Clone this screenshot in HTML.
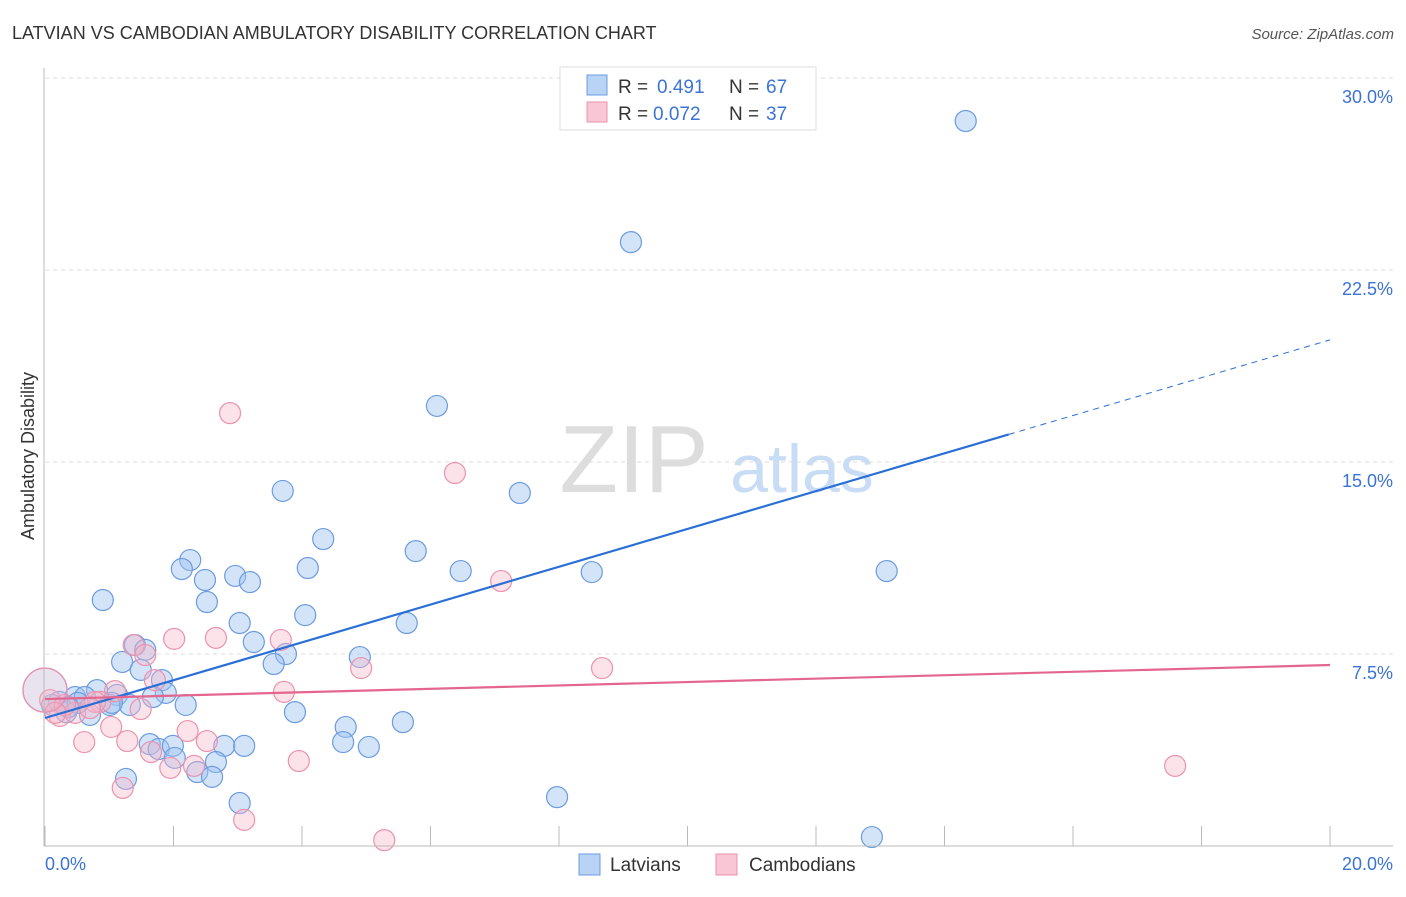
<!DOCTYPE html>
<html><head><meta charset="utf-8"><style>
body{margin:0;background:#fff;font-family:"Liberation Sans",sans-serif;}
svg text{font-family:"Liberation Sans",sans-serif;}
</style></head><body>
<svg width="1406" height="892" id="c">
<text x="12" y="39" font-size="18" fill="#333">LATVIAN VS CAMBODIAN AMBULATORY DISABILITY CORRELATION CHART</text>
<text x="1394" y="39" font-size="15" fill="#555" font-style="italic" text-anchor="end">Source: ZipAtlas.com</text>
<text x="634" y="492" font-size="96" fill="#ddd" font-family="Liberation Serif" text-anchor="middle">ZIP</text>
<text x="802" y="492" font-size="68" fill="#c9dcf5" text-anchor="middle">atlas</text>
<text transform="translate(34,456) rotate(-90)" font-size="18" fill="#333" text-anchor="middle">Ambulatory Disability</text>
<g id="grid"></g><g id="pts"></g><g id="lines"></g>
<line x1="44" y1="68" x2="44" y2="846" stroke="#bbb"/>
<line x1="44" y1="846" x2="1393" y2="846" stroke="#bbb"/>
<text x="45" y="870" font-size="18" fill="#3b73d6">0.0%</text>
<text x="1393" y="870" font-size="18" fill="#3b73d6" text-anchor="end">20.0%</text>
<g>
<rect x="560" y="67" width="256" height="63" fill="#fff" stroke="#ddd"/>
<rect x="587" y="75" width="20" height="20" fill="#b9d3f5" stroke="#6b9be0"/>
<rect x="587" y="102" width="20" height="20" fill="#f9c6d5" stroke="#ec92ae"/>
<text x="618" y="93" font-size="19" fill="#333">R =</text>
<text x="657" y="93" font-size="19" fill="#3b73d6">0.491</text>
<text x="729" y="93" font-size="19" fill="#333">N =</text>
<text x="766" y="93" font-size="19" fill="#3b73d6">67</text>
<text x="618" y="120" font-size="19" fill="#333">R =</text>
<text x="653" y="120" font-size="19" fill="#3b73d6">0.072</text>
<text x="729" y="120" font-size="19" fill="#333">N =</text>
<text x="766" y="120" font-size="19" fill="#3b73d6">37</text>
</g>
<g>
<rect x="579" y="854" width="21" height="21" fill="#b9d3f5" stroke="#6b9be0"/>
<text x="610" y="871" font-size="19" fill="#333">Latvians</text>
<rect x="716" y="854" width="21" height="21" fill="#f9c6d5" stroke="#ec92ae"/>
<text x="749" y="871" font-size="19" fill="#333">Cambodians</text>
</g>
</svg>
<script>
const yTicks=[7.5,15,22.5,30];
const yTickLabels=["7.5%","15.0%","22.5%","30.0%"];
const xTicks=[0,2,4,6,8,10,12,14,16,18,20];
const latX=[14.33,9.12,6.10,7.39,3.70,4.33,5.77,6.47,8.51,13.10,2.26,2.13,2.49,2.96,3.19,4.09,0.90,2.52,4.05,5.63,3.03,3.25,1.40,1.56,3.75,4.90,1.20,3.56,1.49,1.82,1.88,1.68,1.12,0.81,0.47,0.22,0.62,1.01,1.32,2.19,0.70,3.89,0.33,0.11,4.68,5.57,4.64,5.04,1.63,1.77,1.99,2.02,2.79,3.10,2.66,2.37,2.60,1.26,3.03,7.97,12.87,0.51,0.36,1.04,0.0];
const latY=[28.32,23.59,17.19,13.79,13.87,11.99,11.52,10.74,10.70,10.74,11.17,10.82,10.39,10.55,10.31,10.86,9.61,9.53,9.02,8.71,8.71,7.97,7.85,7.66,7.50,7.38,7.19,7.11,6.88,6.48,5.98,5.82,5.90,6.09,5.82,5.63,5.82,5.51,5.51,5.51,5.12,5.23,5.23,5.51,4.65,4.84,4.06,3.87,3.98,3.79,3.91,3.44,3.91,3.91,3.28,2.89,2.70,2.62,1.68,1.91,0.35,5.59,5.43,5.59,6.09];
const camX=[2.88,6.38,7.10,2.01,2.66,3.67,1.38,1.56,4.92,8.67,1.71,1.09,3.72,0.08,0.86,1.49,0.23,0.47,1.03,2.22,0.61,1.28,2.52,1.65,2.32,1.95,3.95,1.21,17.59,3.10,5.28,0.78,0.31,0.16,0.70,0.0];
const camY=[16.91,14.57,10.35,8.09,8.13,8.05,7.85,7.46,6.95,6.95,6.48,6.05,6.02,5.70,5.63,5.35,5.08,5.20,4.65,4.49,4.06,4.10,4.10,3.67,3.13,3.05,3.32,2.27,3.13,1.02,0.23,5.63,5.51,5.20,5.39,6.09];
const latTrend=[5.0,19.77], camTrend=[5.74,7.07];
const NS="http://www.w3.org/2000/svg";
const sx=v=>45+v/20*1285, sy=v=>846-v/30*768;
function mk(t,a,p){const e=document.createElementNS(NS,t);for(const k in a)e.setAttribute(k,a[k]);p.appendChild(e);return e;}
const grid=document.getElementById('grid'),pts=document.getElementById('pts'),lines=document.getElementById('lines');
yTicks.forEach((t,i)=>{
 const l=mk('line',{x1:45,x2:1393,y1:sy(t),y2:sy(t),stroke:'#ddd','stroke-dasharray':'4,4'},grid);
 
 
 const tx=mk('text',{x:1393,y:sy(t)+25,'font-size':18,fill:'#3b73d6','text-anchor':'end'},grid);
 tx.textContent=yTickLabels[i];
 
 
});
xTicks.forEach(t=>{
 const l=mk('line',{x1:sx(t),x2:sx(t),y1:826,y2:846,stroke:'#bbb'},grid);
 
 
});
function dots(X,Y,fill,stroke,name){
 X.forEach((x,i)=>{
  const big=(x===0);
  const c=mk('circle',{cx:sx(x),cy:sy(Y[i]),r:big?22:10.5,fill:fill,stroke:stroke,'stroke-width':1.2,'fill-opacity':big?0.6:1},pts);
  
  
 });
}
dots(latX,latY,'rgba(160,196,240,0.45)','#6b9be0','latvian-point');
dots(camX,camY,'rgba(248,182,200,0.4)','#ec92ae','cambodian-point');
const xb=15;
const yb=latTrend[0]+(latTrend[1]-latTrend[0])*xb/20;
let l=mk('line',{x1:sx(0),y1:sy(latTrend[0]),x2:sx(xb),y2:sy(yb),stroke:'#2a6fd6','stroke-width':2.2},lines);


l=mk('line',{x1:sx(xb),y1:sy(yb),x2:sx(20),y2:sy(latTrend[1]),stroke:'#2a6fd6','stroke-width':1,'stroke-dasharray':'6,5'},lines);


l=mk('line',{x1:sx(0),y1:sy(camTrend[0]),x2:sx(20),y2:sy(camTrend[1]),stroke:'#e4668f','stroke-width':2.2},lines);


</script>
</body></html>
